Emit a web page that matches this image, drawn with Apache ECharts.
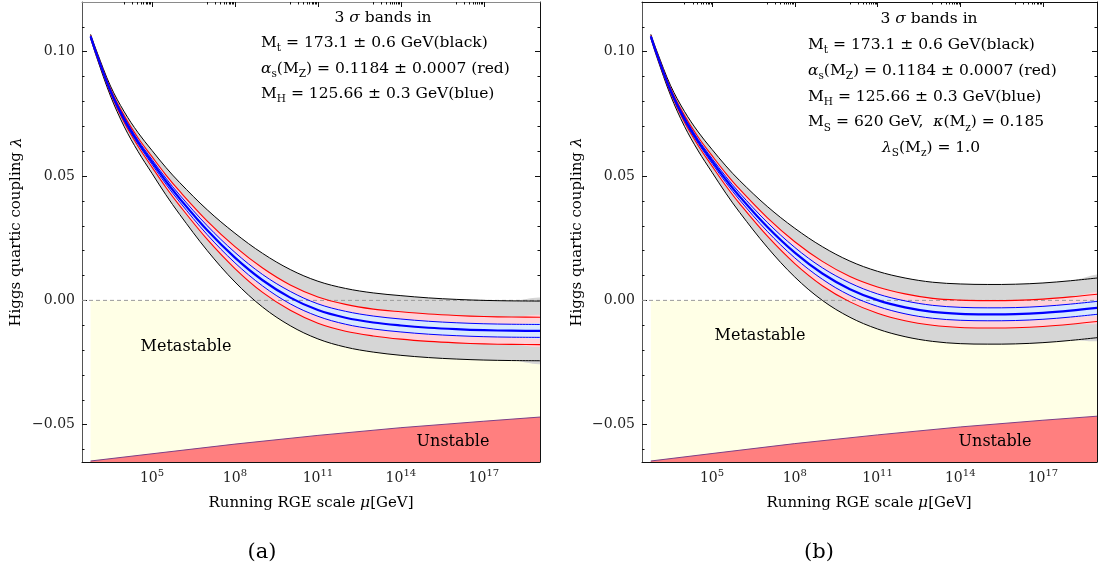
<!DOCTYPE html>
<html><head><meta charset="utf-8">
<script src="https://cdn.jsdelivr.net/npm/echarts@6/dist/echarts.min.js"></script>
<style>html,body{margin:0;padding:0;background:#fff;}#c{width:1105px;height:579px;}</style>
</head><body><div id="c"></div>
<script>
// x values: log10(mu / GeV)
const T = [2.78, 3, 3.5, 4, 4.5, 5, 5.5, 6, 7, 8, 9, 10, 11, 12, 13, 14, 15, 16, 17, 18, 19.3];

// Panel (a): SM
const centralA = [.1062, .0990, .0842, .0728, .0636, .0557, .0480, .0410, .0282, .0172, .0081, .0011, -.0039, -.0070, -.0089, -.0101, -.0110, -.0116, -.0120, -.0122, -.0123];
const blackUpA = [.1070, .1002, .0862, .0758, .0674, .0603, .0535, .0474, .0364, .0270, .0189, .0124, .0077, .0048, .0030, .0019, .0010, .0004, .0000, -.0002, -.0003];
const blackLoA = [.1054, .0978, .0822, .0698, .0598, .0511, .0425, .0346, .0200, .0074, -.0027, -.0102, -.0155, -.0188, -.0208, -.0221, -.0230, -.0236, -.0240, -.0242, -.0243];
const redUpA = [.1066, .0996, .0851, .0742, .0653, .0578, .0505, .0439, .0319, .0216, .0130, .0062, .0014, -.0016, -.0035, -.0046, -.0055, -.0061, -.0065, -.0067, -.0068];
const redLoA = [.1058, .0984, .0833, .0714, .0619, .0536, .0455, .0381, .0245, .0128, .0032, -.0040, -.0092, -.0124, -.0143, -.0156, -.0165, -.0171, -.0175, -.0177, -.0178];
const blueUpA = [.1064, .0993, .0846, .0735, .0644, .0567, .0492, .0424, .0300, .0193, .0104, .0036, -.0014, -.0044, -.0063, -.0075, -.0084, -.0090, -.0094, -.0096, -.0097];
const blueLoA = [.1060, .0987, .0838, .0721, .0628, .0547, .0468, .0396, .0264, .0151, .0058, -.0014, -.0064, -.0096, -.0115, -.0127, -.0136, -.0142, -.0146, -.0148, -.0149];

// Panel (b): with singlet scalar
const centralB = [.1062, .0990, .0843, .0730, .0639, .0561, .0486, .0418, .0296, .0192, .0108, .0045, .0001, -.0028, -.0046, -.0054, -.0056, -.0055, -.0050, -.0041, -.0026];
const blackUpB = [.1070, .1002, .0863, .0760, .0677, .0607, .0541, .0482, .0378, .0290, .0216, .0158, .0117, .0090, .0073, .0066, .0064, .0065, .0070, .0079, .0094];
const blackLoB = [.1054, .0978, .0823, .0700, .0601, .0515, .0431, .0354, .0214, .0094, .0000, -.0068, -.0115, -.0146, -.0165, -.0174, -.0176, -.0175, -.0170, -.0161, -.0146];
const redUpB = [.1066, .0996, .0852, .0744, .0656, .0582, .0511, .0447, .0333, .0236, .0157, .0096, .0054, .0026, .0008, .0001, -.0001, .0000, .0005, .0014, .0029];
const redLoB = [.1058, .0984, .0834, .0716, .0622, .0540, .0461, .0389, .0259, .0148, .0059, -.0006, -.0052, -.0082, -.0100, -.0109, -.0111, -.0110, -.0105, -.0096, -.0081];
const blueUpB = [.1064, .0993, .0847, .0737, .0647, .0571, .0498, .0432, .0314, .0213, .0131, .0070, .0026, -.0002, -.0020, -.0028, -.0030, -.0029, -.0024, -.0015, .0000];
const blueLoB = [.1060, .0987, .0839, .0723, .0631, .0551, .0474, .0404, .0278, .0171, .0085, .0020, -.0024, -.0054, -.0072, -.0080, -.0082, -.0081, -.0076, -.0067, -.0052];

// Stability boundary (metastable / unstable)
const boundaryT = [2.78, 5, 8, 11, 14, 17, 19.3];
const boundaryA = [-.0646, -.0617, -.0578, -.0543, -.0512, -.0486, -.0467];
const boundaryB = [-.0646, -.0616, -.0576, -.0541, -.0509, -.0482, -.0463];

// ticks
const xMajorTicks = [5, 8, 11, 14, 17];
const yMajorTicks = [-0.05, 0, 0.05, 0.10];
const yMinorTicks = [-0.06, -0.04, -0.03, -0.02, -0.01, 0.01, 0.02, 0.03, 0.04, 0.06, 0.07, 0.08, 0.09, 0.11];

// texts
const infoA = ['3 {it|σ} bands in', 'M{sub|t} = 173.1 ± 0.6 GeV(black)', '{it|α}{sub|s}(M{sub|Z}) = 0.1184 ± 0.0007 (red)', 'M{sub|H} = 125.66 ± 0.3 GeV(blue)'];
const infoB = ['3 {it|σ} bands in', 'M{sub|t} = 173.1 ± 0.6 GeV(black)', '{it|α}{sub|s}(M{sub|Z}) = 0.1184 ± 0.0007 (red)', 'M{sub|H} = 125.66 ± 0.3 GeV(blue)', 'M{sub|S} = 620 GeV,  {it|κ}(M{sub|z}) = 0.185', '{it|λ}{sub|S}(M{sub|z}) = 1.0'];
const xName = 'Running RGE scale {it|μ}[GeV]';
const yName = 'Higgs quartic coupling {it|λ}';

const FONT = 'DejaVu Serif';
const xMinorTicks = [];
xMajorTicks.forEach(m => { for (let k = 1; k <= 9; k++) xMinorTicks.push(m - 1 + Math.log10(k)); });

const rich = {
  sub: {fontSize: 10.5, fontFamily: FONT, lineHeight: 12, verticalAlign: 'bottom', color: '#000'},
  it: {fontSize: 15.5, fontFamily: FONT, fontStyle: 'italic', verticalAlign: 'middle', color: '#000'},
  sup: {fontSize: 10, fontFamily: FONT, lineHeight: 12, verticalAlign: 'top', color: '#222'}
};

const panels = [
  {g: 0, left: 82, width: 458, xmin: 2.47, xmax: 19.03, top: '#8a8a8a', c: centralA, bu: blackUpA, bl: blackLoA, ru: redUpA, rl: redLoA, u: blueUpA, l: blueLoA, bd: boundaryA},
  {g: 1, left: 642, width: 455, xmin: 2.46, xmax: 18.96, top: '#111', c: centralB, bu: blackUpB, bl: blackLoB, ru: redUpB, rl: redLoB, u: blueUpB, l: blueLoB, bd: boundaryB}
];

const SMOOTH = 0.35;
const grids = [], xAxes = [], yAxes = [], series = [];

function customSeries(xi, yi, build) {
  return {type: 'custom', xAxisIndex: xi, yAxisIndex: yi, silent: true, clip: true, animation: false,
    data: [[0, 0]], renderItem: (params, api) => build(api)};
}
const pts = (api, xs, ys) => xs.map((x, i) => api.coord([x, ys[i]]));

panels.forEach(p => {
  grids.push({left: p.left, top: 2, width: p.width, height: 460, containLabel: false});
  const base = {gridIndex: p.g, type: 'value', min: p.xmin, max: p.xmax, splitLine: {show: false}};
  const xi = xAxes.length;
  xAxes.push(Object.assign({}, base, {position: 'bottom',
    axisLine: {show: true, onZero: false, lineStyle: {color: '#111', width: 1}},
    axisTick: {show: true, inside: true, length: 5, customValues: xMajorTicks, lineStyle: {color: '#111'}},
    axisLabel: {show: true, customValues: xMajorTicks, margin: 6, fontFamily: FONT, fontSize: 14, color: '#222', lineHeight: 20,
      formatter: v => '10{sup|' + Math.round(v) + '}', rich: rich}}));
  xAxes.push(Object.assign({}, base, {position: 'bottom', axisLine: {show: false, onZero: false},
    axisTick: {show: true, inside: true, length: 2.5, customValues: xMinorTicks, lineStyle: {color: '#111'}}, axisLabel: {show: false}}));
  xAxes.push(Object.assign({}, base, {position: 'top',
    axisLine: {show: true, onZero: false, lineStyle: {color: p.top, width: 1}},
    axisTick: {show: true, inside: true, length: 5, customValues: xMajorTicks, lineStyle: {color: '#111'}}, axisLabel: {show: false}}));
  xAxes.push(Object.assign({}, base, {position: 'top', axisLine: {show: false, onZero: false},
    axisTick: {show: true, inside: true, length: 2.5, customValues: xMinorTicks, lineStyle: {color: '#111'}}, axisLabel: {show: false}}));

  const ybase = {gridIndex: p.g, type: 'value', min: -0.065, max: 0.12, splitLine: {show: false}};
  const yi = yAxes.length;
  yAxes.push(Object.assign({}, ybase, {position: 'left',
    axisLine: {show: true, onZero: false, lineStyle: {color: '#555', width: 1}},
    axisTick: {show: true, inside: true, length: 5, customValues: yMajorTicks, lineStyle: {color: '#111'}},
    axisLabel: {show: true, customValues: yMajorTicks, margin: 7, fontFamily: FONT, fontSize: 14, color: '#222',
      formatter: v => (v < 0 ? '\u2212' : '') + Math.abs(v).toFixed(2)}}));
  yAxes.push(Object.assign({}, ybase, {position: 'left', axisLine: {show: false, onZero: false},
    axisTick: {show: true, inside: true, length: 2.5, customValues: yMinorTicks, lineStyle: {color: '#111'}}, axisLabel: {show: false}}));
  yAxes.push(Object.assign({}, ybase, {position: 'right',
    axisLine: {show: true, onZero: false, lineStyle: {color: '#111', width: 1}},
    axisTick: {show: true, inside: true, length: 5, customValues: yMajorTicks, lineStyle: {color: '#111'}}, axisLabel: {show: false}}));
  yAxes.push(Object.assign({}, ybase, {position: 'right', axisLine: {show: false, onZero: false},
    axisTick: {show: true, inside: true, length: 2.5, customValues: yMinorTicks, lineStyle: {color: '#111'}}, axisLabel: {show: false}}));

  // regions: unstable (red) + metastable (yellow)
  series.push(customSeries(xi, yi, api => {
    const b = pts(api, boundaryT, p.bd);
    const x0 = boundaryT[0], x1 = boundaryT[boundaryT.length - 1];
    const ymin = -0.065;
    const red = b.concat([api.coord([x1, ymin]), api.coord([x0, ymin])]);
    const yel = b.concat([api.coord([x1, 0]), api.coord([x0, 0])]);
    return {type: 'group', children: [
      {type: 'polygon', shape: {points: yel}, style: {fill: '#ffffe6', stroke: null}},
      {type: 'polygon', shape: {points: red}, style: {fill: '#ff7f7f', stroke: null}},
      {type: 'polyline', shape: {points: b}, style: {stroke: '#7d3f86', lineWidth: 1, fill: null}}
    ]};
  }));
  // bands
  [[p.bu, p.bl, '#d6d6d6'], [p.ru, p.rl, '#ffd3d9'], [p.u, p.l, '#d8e9ff']].forEach(([up, lo, col]) => {
    series.push(customSeries(xi, yi, api => {
      const poly = pts(api, T, up).concat(pts(api, T, lo).reverse());
      return {type: 'polygon', shape: {points: poly, smooth: SMOOTH}, style: {fill: col, stroke: null}};
    }));
  });
  // zero line
  series.push(customSeries(xi, yi, api => ({type: 'line',
    shape: (() => { const a = api.coord([p.xmin, 0]), b = api.coord([p.xmax, 0]); return {x1: a[0], y1: a[1], x2: b[0], y2: b[1]}; })(),
    style: {stroke: '#9a9a9a', lineWidth: 1, lineDash: [4, 3]}})));
  // curves
  [[p.bu, '#000', 1], [p.bl, '#000', 1], [p.ru, '#ff0000', 1.1], [p.rl, '#ff0000', 1.1], [p.u, '#0000ff', 1], [p.l, '#0000ff', 1], [p.c, '#0000ff', 2.2]].forEach(([arr, col, w]) => {
    series.push(customSeries(xi, yi, api => ({type: 'polyline', shape: {points: pts(api, T, arr), smooth: SMOOTH},
      style: {stroke: col, lineWidth: w, fill: null}})));
  });
});

function txt(x, y, s, align, size, extra) {
  return Object.assign({type: 'text', x: x, y: y, silent: true, z: 100,
    style: {text: s, align: align, verticalAlign: 'middle', fontFamily: FONT, fontSize: size, lineHeight: 22, fill: '#000', rich: rich}}, extra || {});
}
const graphic = [];
graphic.push(txt(383, 18, infoA[0], 'center', 15.5));
infoA.slice(1).forEach((s, i) => graphic.push(txt(261, 43 + i * 25.5, s, 'left', 15.5)));
graphic.push(txt(929, 19, infoB[0], 'center', 15.5));
infoB.slice(1, 5).forEach((s, i) => graphic.push(txt(808, 45 + i * 25.8, s, 'left', 15.5)));
graphic.push(txt(931, 148, infoB[5], 'center', 15.5));
graphic.push(txt(186, 347, 'Metastable', 'center', 16));
graphic.push(txt(453, 442, 'Unstable', 'center', 16));
graphic.push(txt(760, 336, 'Metastable', 'center', 16));
graphic.push(txt(995, 442, 'Unstable', 'center', 16));
graphic.push(txt(311, 503, xName, 'center', 15));
graphic.push(txt(869, 503, xName, 'center', 15));
graphic.push(txt(16.5, 232, yName, 'center', 15, {rotation: Math.PI / 2}));
graphic.push(txt(577, 232, yName, 'center', 15, {rotation: Math.PI / 2}));
graphic.push(txt(262, 553, '(a)', 'center', 21));
graphic.push(txt(819, 553, '(b)', 'center', 21));

const chart = echarts.init(document.getElementById('c'), null, {renderer: 'canvas'});
chart.setOption({animation: false, backgroundColor: '#fff', grid: grids, xAxis: xAxes, yAxis: yAxes, series: series, graphic: graphic});
</script></body></html>
